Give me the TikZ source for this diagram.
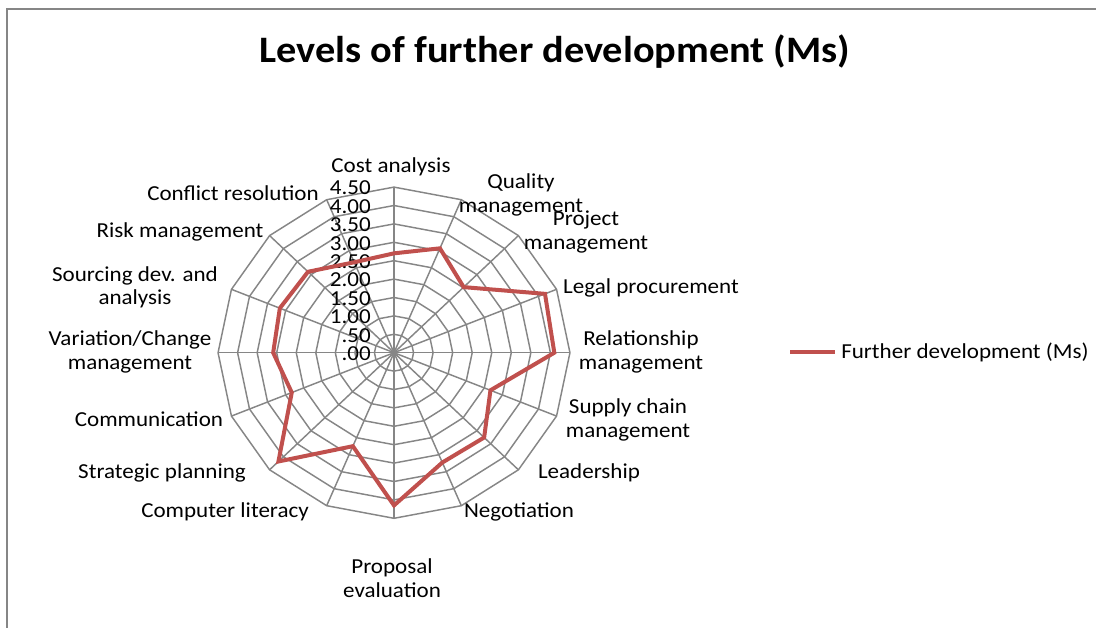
\documentclass[tikz,border=0pt]{standalone}
\usepackage{fontspec}
\setmainfont{Carlito}[FakeStretch=1.08]
\tikzset{
  gridline/.style={draw=gridgrey, line width=1.1pt},
  series/.style={draw=serred, line width=3pt, line join=miter},
  catlabel/.style={font=\fontsize{16}{17.5}\selectfont, align=center, inner sep=0pt},
  ticklabel/.style={font=\fontsize{16}{17}\selectfont, anchor=east, inner sep=0pt},
}
\definecolor{gridgrey}{HTML}{868686}
\definecolor{serred}{HTML}{C0504D}
\newcommand{\cx}{394}
\newcommand{\cy}{352.7}
\newcommand{\sxx}{39.1}
\newcommand{\syy}{36.8}
\begin{document}
\begin{tikzpicture}[x=0.75pt,y=-0.75pt]
\useasboundingbox (0,0) rectangle (1096,628);
% frame
\draw[gridgrey, line width=1.2pt] (7,628) -- (7,9) -- (1096,9);
% title
\node[font=\fontsize{28}{32}\selectfont\bfseries, inner sep=0pt] (title) at (555,52) {Levels of further development (Ms)};
% rings
\foreach \k in {1,...,9}{
  \draw[gridline] ({\cx},{\cy-\syy*\k*0.5})
    \foreach \i in {1,...,15}{ -- ({\cx+\sxx*\k*0.5*sin(\i*22.5)},{\cy-\syy*\k*0.5*cos(\i*22.5)}) } -- cycle;
}
% spokes
\foreach \i in {0,...,15}{
  \draw[gridline] (\cx,\cy) -- ({\cx+\sxx*4.5*sin(\i*22.5)},{\cy-\syy*4.5*cos(\i*22.5)});
}
% tick labels
\foreach \k/\t in {0/.00,1/.50,2/1.00,3/1.50,4/2.00,5/2.50,6/3.00,7/3.50,8/4.00,9/4.50}{
  \node[ticklabel] (tick\k) at (371,{\cy-18.4*\k+1}) {\t};
}
% series
\draw[series] ({\cx},{\cy-\syy*2.70})
  \foreach \i/\v in {1/3.07,2/2.52,3/4.18,4/4.10,5/2.67,6/3.26,7/3.23,8/4.15,9/2.75,10/4.18,11/2.83,12/3.09,13/3.16,14/3.11,15/2.66}{
    -- ({\cx+\sxx*\v*sin(\i*22.5)},{\cy-\syy*\v*cos(\i*22.5)}) } -- cycle;
% category labels
\node[catlabel] (c0) at (391,167) {Cost analysis};
\node[catlabel] (c1) at (521,195) {Quality\\management};
\node[catlabel] (c2) at (586,232) {Project\\management};
\node[catlabel] (c3) at (651,288) {Legal procurement};
\node[catlabel] (c4) at (641,352) {Relationship\\management};
\node[catlabel] (c5) at (628,420) {Supply chain\\management};
\node[catlabel] (c6) at (589,473) {Leadership};
\node[catlabel] (c7) at (519,512) {Negotiation};
\node[catlabel] (c8) at (392,578) {Proposal\\evaluation};
\node[catlabel] (c9) at (225,512) {Computer literacy};
\node[catlabel] (c10) at (162,473) {Strategic planning};
\node[catlabel] (c11) at (149,419) {Communication};
\node[catlabel] (c12) at (130,352) {Variation/Change\\management};
\node[catlabel] (c13) at (135,287) {Sourcing dev. and\\analysis};
\node[catlabel] (c14) at (180,232) {Risk management};
\node[catlabel] (c15) at (233,193) {Conflict resolution};
% legend
\coordinate (lgA) at (790,352);
\coordinate (lgB) at (835,352);
\draw[serred, line width=3pt] (lgA) -- (lgB);
\node[catlabel, anchor=west] (lgtext) at (841,352) {Further development (Ms)};
\end{tikzpicture}
\end{document}
